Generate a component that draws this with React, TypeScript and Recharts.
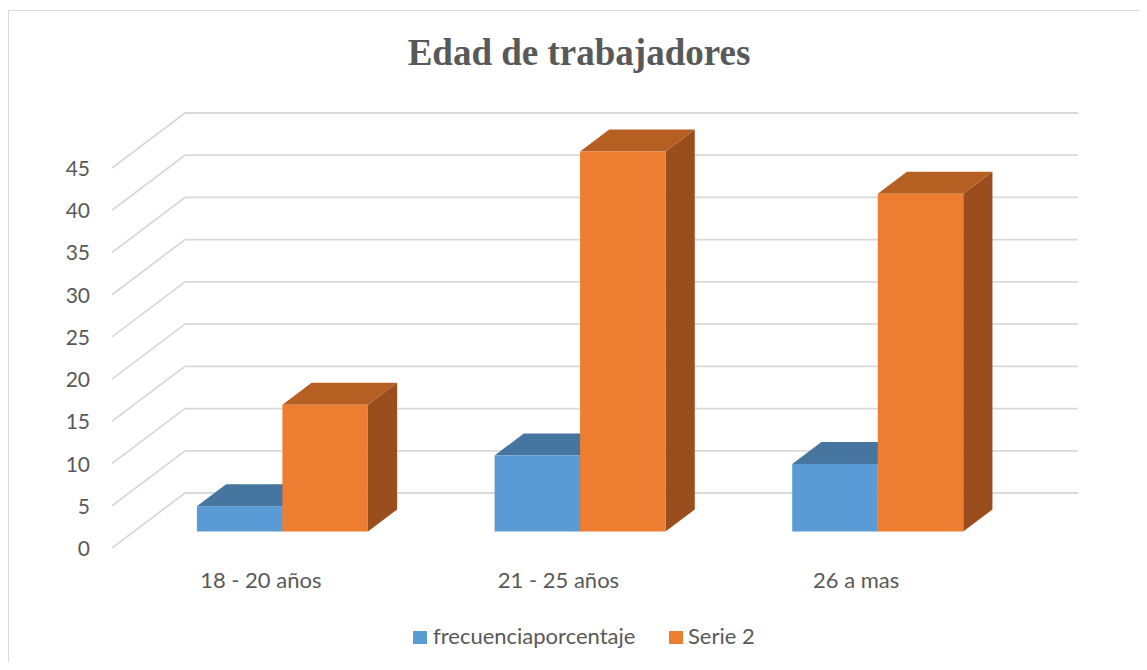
import React from 'react';
import { BarChart, Bar, XAxis, YAxis, CartesianGrid } from 'recharts';

const categories = ['18 - 20 años', '21 - 25 años', '26 a mas'];
const frecuenciaporcentaje = [3, 9, 8];
const serie2 = [15, 45, 40];
const yTicks = [0, 5, 10, 15, 20, 25, 30, 35, 40, 45];
const seriesNames = ['frecuenciaporcentaje', 'Serie 2'];
const title = 'Edad de trabajadores';

const data = categories.map((c, i) => ({
  name: c,
  frecuenciaporcentaje: frecuenciaporcentaje[i],
  serie2: serie2[i],
}));

// 3D perspective (depth of floor) and bar depth
const DX = 73;
const DY = 55;
const OX = DX * 0.3;
const OY = DY * 0.3;
const BX = DX * 0.4;
const BY = DY * 0.4;

const TEXT = '#595959';
const FONT = 'Lato, "Open Sans", sans-serif';

const make3D = (front: string, top: string, side: string) => (props: any) => {
  const { x, y, width, height } = props;
  if (height == null || width == null) return <g />;
  const x0 = x + OX;
  const y0 = y - OY;
  const x1 = x0 + width;
  const y1 = y0 + height;
  return (
    <g>
      <path d={`M${x1},${y0}L${x1 + BX},${y0 - BY}L${x1 + BX},${y1 - BY}L${x1},${y1}Z`} fill={side} />
      <path d={`M${x0},${y0}L${x0 + BX},${y0 - BY}L${x1 + BX},${y0 - BY}L${x1},${y0}Z`} fill={top} />
      <rect x={x0} y={y0} width={width} height={height} fill={front} />
    </g>
  );
};

const gridLine = (p: any) => (
  <path
    key={`g-${p.y1}`}
    d={`M${p.x1},${p.y1}L${p.x1 + DX},${p.y1 - DY}L${p.x2 + DX},${p.y2 - DY}`}
    stroke="#d9d9d9"
    strokeWidth={1.8}
    fill="none"
  />
);

const YTick = (props: any) => {
  const { y, payload } = props;
  return (
    <text x={90} y={y} dy={8} textAnchor="end" fontFamily={FONT} fontSize={21} fill={TEXT}>
      {payload.value}
    </text>
  );
};

const XTick = (props: any) => {
  const { x, y, payload } = props;
  return (
    <text x={x} y={y + 40} textAnchor="middle" fontFamily={FONT} fontSize={22} fill={TEXT}>
      {payload.value}
    </text>
  );
};

export default function App() {
  return (
    <div style={{ position: 'relative', width: 1147, height: 670, margin: -8, background: '#fff', overflow: 'hidden' }}>
      <div style={{ position: 'absolute', left: 0, top: 0 }}>
        <BarChart
          width={1147}
          height={670}
          data={data}
          margin={{ top: 168, right: 142, bottom: 92, left: 52 }}
          barGap={0}
          barSize={85.5}
        >
          <CartesianGrid vertical={false} horizontal={gridLine} />
          <XAxis dataKey="name" height={30} axisLine={false} tickLine={false} tickSize={0} tickMargin={0} tick={<XTick />} />
          <YAxis width={60} domain={[0, 45]} ticks={yTicks} axisLine={false} tickLine={false} tick={<YTick />} />
          <Bar dataKey="frecuenciaporcentaje" name={seriesNames[0]} fill="#5B9BD5" isAnimationActive={false} shape={make3D('#5B9BD5', '#4675A0', '#3F6C96')} />
          <Bar dataKey="serie2" name={seriesNames[1]} fill="#ED7D31" isAnimationActive={false} shape={make3D('#ED7D31', '#B65F23', '#9A4E1E')} />
        </BarChart>
      </div>
      <svg width={1147} height={670} style={{ position: 'absolute', left: 0, top: 0, pointerEvents: 'none' }}>
        <line x1={8.5} y1={10} x2={8.5} y2={670} stroke="#d9d9d9" strokeWidth={1} />
        <line x1={8} y1={10.5} x2={1147} y2={10.5} stroke="#d9d9d9" strokeWidth={1} />
        <text x={579} y={65} textAnchor="middle" fontFamily='"Liberation Serif", "Times New Roman", serif' fontWeight="bold" fontSize={37} fill={TEXT}>
          {title}
        </text>
        <rect x={413} y={631} width={14} height={13} fill="#5B9BD5" />
        <text x={433} y={644} fontFamily={FONT} fontSize={22} fill={TEXT}>{seriesNames[0]}</text>
        <rect x={669} y={631} width={14} height={13} fill="#ED7D31" />
        <text x={688} y={644} fontFamily={FONT} fontSize={22} fill={TEXT}>{seriesNames[1]}</text>
      </svg>
    </div>
  );
}
